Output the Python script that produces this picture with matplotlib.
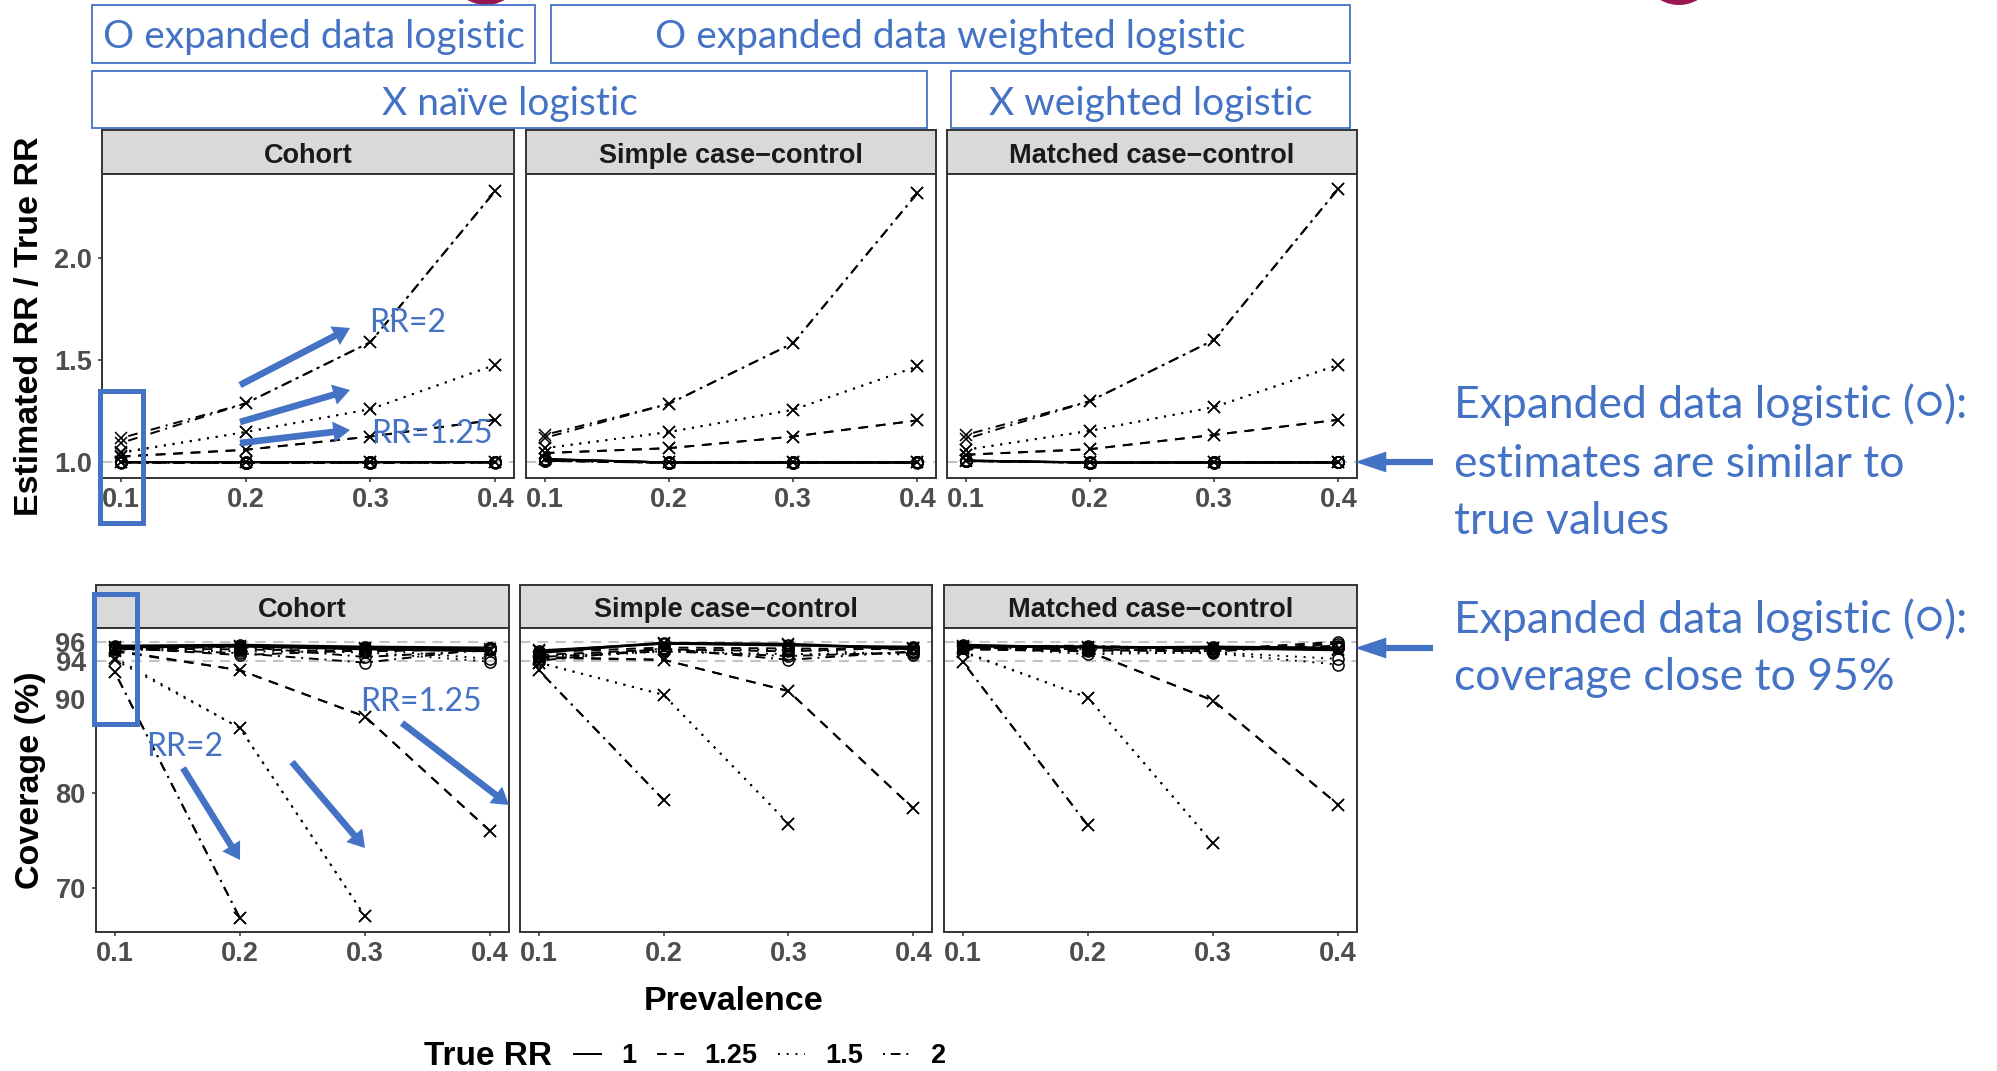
import numpy as np
import matplotlib
matplotlib.use("Agg")
import matplotlib.pyplot as plt
from matplotlib.lines import Line2D
from matplotlib.patches import Rectangle, Ellipse
from matplotlib.font_manager import FontProperties

nan = np.nan

# ---------------- data ----------------
prevalence = [0.1, 0.2, 0.3, 0.4]
prevalence_labels = ["0.1", "0.2", "0.3", "0.4"]
true_rr = ["1", "1.25", "1.5", "2"]
designs = ["Cohort", "Simple case\u2212control", "Matched case\u2212control"]
methods = ["expanded data logistic", "expanded data weighted logistic",
           "naïve logistic", "weighted logistic"]
ratio_ticks = [1.0, 1.5, 2.0]
ratio_tick_labels = ["1.0", "1.5", "2.0"]
coverage_ticks = [70, 80, 90, 94, 96]
coverage_tick_labels = ["70", "80", "90", "94", "96"]

# Estimated RR / True RR  (rows = true RR 1, 1.25, 1.5, 2; cols = prevalence)
ratio_cohort_expanded = [[1.000, 1.000, 1.000, 1.000], [1.000, 0.998, 0.999, 1.000],
                         [0.999, 0.998, 1.000, 0.999], [1.000, 0.997, 0.999, 1.000]]
ratio_cohort_expanded_w = [[1.001, 1.000, 1.000, 1.000], [1.001, 0.999, 1.000, 1.000],
                           [1.000, 0.999, 0.999, 1.000], [1.001, 0.998, 1.000, 1.000]]
ratio_cohort_naive = [[1.000, 1.000, 1.000, 1.000], [1.030, 1.062, 1.127, 1.209],
                      [1.046, 1.149, 1.261, 1.478], [1.119, 1.289, 1.589, 2.329]]
ratio_cohort_weighted = [[1.000, 1.000, 1.000, 1.000], [1.028, 1.062, 1.127, 1.209],
                         [1.050, 1.149, 1.261, 1.478], [1.095, 1.289, 1.589, 2.329]]

ratio_simple_expanded = [[1.017, 1.000, 1.000, 1.000], [1.010, 0.998, 1.000, 1.000],
                         [1.012, 0.999, 0.999, 1.000], [1.008, 0.998, 1.000, 0.999]]
ratio_simple_expanded_w = [[1.015, 1.000, 1.000, 1.000], [1.011, 0.999, 0.999, 1.000],
                           [1.010, 0.998, 1.000, 1.000], [1.009, 0.999, 0.999, 1.000]]
ratio_simple_naive = [[1.017, 1.000, 1.000, 1.000], [1.046, 1.070, 1.127, 1.206],
                      [1.070, 1.149, 1.258, 1.470], [1.135, 1.287, 1.584, 2.318]]
ratio_simple_weighted = [[1.015, 1.000, 1.000, 1.000], [1.046, 1.070, 1.127, 1.206],
                         [1.070, 1.149, 1.258, 1.470], [1.120, 1.287, 1.584, 2.318]]

ratio_matched_expanded = [[1.010, 1.000, 1.000, 1.000], [1.008, 0.999, 1.000, 1.000],
                          [1.009, 0.998, 1.000, 1.000], [1.007, 0.999, 0.999, 1.000]]
ratio_matched_expanded_w = [[1.008, 1.000, 1.000, 1.000], [1.009, 0.998, 1.000, 1.000],
                            [1.007, 0.999, 0.999, 1.000], [1.008, 0.998, 1.000, 1.000]]
ratio_matched_naive = [[1.010, 1.000, 1.000, 1.000], [1.038, 1.065, 1.135, 1.209],
                       [1.062, 1.155, 1.271, 1.478], [1.135, 1.300, 1.600, 2.340]]
ratio_matched_weighted = [[1.008, 1.000, 1.000, 1.000], [1.038, 1.065, 1.135, 1.209],
                          [1.062, 1.155, 1.271, 1.478], [1.115, 1.300, 1.600, 2.340]]

# Coverage (%)
cov_cohort_expanded = [[95.5, 95.6, 95.4, 95.3], [95.3, 95.2, 95.0, 95.2],
                       [95.2, 95.0, 94.9, 93.9], [95.3, 94.8, 93.8, 95.3]]
cov_cohort_expanded_w = [[95.6, 95.7, 95.5, 95.4], [95.4, 94.6, 95.1, 95.3],
                         [95.3, 95.4, 95.2, 94.2], [95.2, 95.5, 94.4, 95.1]]
cov_cohort_naive = [[95.5, 95.6, 95.3, 95.2], [95.0, 93.0, 88.1, 76.0],
                    [94.3, 86.9, 67.0, nan], [92.8, 66.8, nan, nan]]
cov_cohort_weighted = [[95.4, 95.5, 95.2, 95.0], [95.1, 93.0, 88.1, 76.0],
                       [94.1, 86.9, 67.0, nan], [92.8, 66.8, nan, nan]]

cov_simple_expanded = [[94.8, 95.9, 95.7, 95.3], [94.6, 95.2, 95.0, 95.4],
                       [94.2, 95.0, 94.7, 94.8], [94.0, 95.3, 94.1, 95.0]]
cov_simple_expanded_w = [[95.0, 95.8, 95.6, 95.5], [94.9, 95.4, 95.3, 95.2],
                         [94.5, 95.1, 95.2, 94.6], [94.4, 95.0, 94.5, 94.9]]
cov_simple_naive = [[95.0, 95.9, 95.8, 95.3], [94.3, 94.1, 90.8, 78.4],
                    [93.8, 90.4, 76.8, nan], [93.0, 79.3, nan, nan]]
cov_simple_weighted = [[95.1, 95.8, 95.7, 95.2], [94.4, 94.1, 90.8, 78.4],
                       [93.8, 90.4, 76.8, nan], [93.0, 79.3, nan, nan]]

cov_matched_expanded = [[95.6, 95.5, 95.4, 95.3], [95.5, 95.3, 95.2, 96.0],
                        [95.3, 95.0, 94.8, 93.6], [95.4, 95.2, 95.0, 95.6]]
cov_matched_expanded_w = [[95.7, 95.4, 95.5, 95.4], [95.4, 95.1, 95.0, 95.8],
                          [95.5, 94.7, 94.9, 94.2], [95.5, 95.6, 95.2, 95.5]]
cov_matched_naive = [[95.5, 95.4, 95.3, 95.2], [95.3, 95.0, 89.8, 78.8],
                     [95.0, 90.1, 74.7, nan], [93.9, 76.6, nan, nan]]
cov_matched_weighted = [[95.6, 95.5, 95.3, 95.1], [95.2, 95.0, 89.8, 78.8],
                        [94.9, 90.1, 74.7, nan], [93.9, 76.6, nan, nan]]

ratio_data = [
    [ratio_cohort_expanded, ratio_cohort_expanded_w, ratio_cohort_naive, ratio_cohort_weighted],
    [ratio_simple_expanded, ratio_simple_expanded_w, ratio_simple_naive, ratio_simple_weighted],
    [ratio_matched_expanded, ratio_matched_expanded_w, ratio_matched_naive, ratio_matched_weighted],
]
coverage_data = [
    [cov_cohort_expanded, cov_cohort_expanded_w, cov_cohort_naive, cov_cohort_weighted],
    [cov_simple_expanded, cov_simple_expanded_w, cov_simple_naive, cov_simple_weighted],
    [cov_matched_expanded, cov_matched_expanded_w, cov_matched_naive, cov_matched_weighted],
]

# ---------------- styles ----------------
W, H = 1997, 1071
BLUE = "#4472C4"
plt.rcParams["font.family"] = ["Liberation Sans", "DejaVu Sans"]
SLIDE_FONT = ["Lato", "DejaVu Sans"]
line_styles = {"1": "-", "1.25": (0, (5, 4)), "1.5": (0, (1, 3.5)), "2": (0, (1, 3, 5, 3))}
method_markers = ["o", "o", "x", "x"]
TICK_FS = 19.5
TITLE_FS = 24.5

fig = plt.figure(figsize=(W / 100, H / 100), dpi=100)
fig.patch.set_facecolor("white")


def add_px_axes(x0, y0, x1, y1):
    return fig.add_axes([x0 / W, 1 - y1 / H, (x1 - x0) / W, (y1 - y0) / H])


def style_frame(ax):
    for s in ax.spines.values():
        s.set_color("#333333")
        s.set_linewidth(1.4)


def add_strip(x0, y0, x1, y1, label):
    sax = add_px_axes(x0, y0, x1, y1)
    sax.set_facecolor("#D9D9D9")
    sax.set_xticks([])
    sax.set_yticks([])
    style_frame(sax)
    sax.text(0.5, 0.25, label, transform=sax.transAxes, ha="center", va="baseline",
             fontsize=TICK_FS, fontweight="bold", color="#1A1A1A")


top_cols = [(102, 514), (526, 936), (947, 1357)]
bot_cols = [(96, 509), (520, 932), (944, 1357)]
top_rows = (130, 174, 478)
bot_rows = (585, 628, 932)


def draw_panel(ax, values, ref_levels, ylim, yticks, yticklabels, show_y):
    for lvl in ref_levels:
        ax.axhline(lvl, color="#C4C4C4", lw=1.5, ls=(0, (5, 3.5)), zorder=1)
    for m_i, method_vals in enumerate(values):
        for r_i, rr in enumerate(true_rr):
            ax.plot(prevalence, method_vals[r_i], color="black", lw=1.4,
                    ls=line_styles[rr], marker=method_markers[m_i], ms=8,
                    mfc="none", mec="black", mew=1.1, zorder=3)
    ax.set_xlim(0.085, 0.415)
    ax.set_ylim(*ylim)
    ax.set_xticks(prevalence)
    ax.set_xticklabels(prevalence_labels, fontsize=TICK_FS, fontweight="bold", color="#4D4D4D")
    if show_y:
        ax.set_yticks(yticks)
        ax.set_yticklabels(yticklabels, fontsize=TICK_FS, fontweight="bold", color="#4D4D4D")
    else:
        ax.set_yticks([])
    ax.tick_params(axis="x", length=2.9, width=1.1, color="#333333", pad=3.5)
    ax.tick_params(axis="y", length=2.9, width=1.1, color="#333333", pad=4.5)
    style_frame(ax)


for d_i, design in enumerate(designs):
    x0, x1 = top_cols[d_i]
    add_strip(x0, top_rows[0], x1, top_rows[1], design)
    ax = add_px_axes(x0, top_rows[1], x1, top_rows[2])
    draw_panel(ax, ratio_data[d_i], [1.0], (0.924, 2.412), ratio_ticks, ratio_tick_labels, d_i == 0)

    x0, x1 = bot_cols[d_i]
    add_strip(x0, bot_rows[0], x1, bot_rows[1], design)
    ax = add_px_axes(x0, bot_rows[1], x1, bot_rows[2])
    draw_panel(ax, coverage_data[d_i], [94, 96], (65.35, 97.46), coverage_ticks,
               coverage_tick_labels, d_i == 0)

# axis titles
fig.text(30 / W, 1 - 326 / H, "Estimated RR / True RR", rotation=90, ha="center", va="center",
         fontsize=TITLE_FS, fontweight="bold", color="black")
fig.text(31 / W, 1 - 780 / H, "Coverage (%)", rotation=90, ha="center", va="center",
         fontsize=TITLE_FS, fontweight="bold", color="black")
fig.text(734 / W, 1 - 1010 / H, "Prevalence", ha="center", va="baseline",
         fontsize=TITLE_FS, fontweight="bold", color="black")

# legend
fig.text(424 / W, 1 - 1065 / H, "True RR", ha="left", va="baseline",
         fontsize=24, fontweight="bold", color="black")
handles = [Line2D([], [], color="black", lw=1.4, ls=line_styles[rr]) for rr in true_rr]
fig.legend(handles, true_rr, loc="center left", bbox_to_anchor=(574 / W, 1 - 1056 / H),
           ncol=4, frameon=False, borderpad=0, borderaxespad=0, handlelength=1.0,
           handletextpad=0.75, columnspacing=0.75,
           prop=FontProperties(family="Liberation Sans", weight="bold", size=TICK_FS))

# ---------------- slide overlay ----------------
ov = fig.add_axes([0, 0, 1, 1])
ov.set_xlim(0, W)
ov.set_ylim(H, 0)
ov.axis("off")
ov.patch.set_visible(False)
ov.set_zorder(20)

# remnants of the slide title decoration
for cx in (486, 1679):
    ov.add_patch(Ellipse((cx, -32), 74, 74, color="#9B1553", lw=0))

# method legend boxes
boxes = [((92, 5, 535, 63), "O expanded data logistic", 48),
         ((551, 5, 1350, 63), "O expanded data weighted logistic", 48),
         ((92, 71, 927, 128), "X naïve logistic", 115),
         ((951, 71, 1350, 128), "X weighted logistic", 115)]
for (bx0, by0, bx1, by1), label, base in boxes:
    ov.add_patch(Rectangle((bx0, by0), bx1 - bx0, by1 - by0, fill=False, ec=BLUE, lw=1.3))
    ov.text((bx0 + bx1) / 2, base, label, ha="center", va="baseline", color=BLUE,
            fontsize=28, family=SLIDE_FONT)

# highlight rectangles at prevalence 0.1
ov.add_patch(Rectangle((100.5, 390.5), 43, 132, fill=False, ec=BLUE, lw=3.6))
ov.add_patch(Rectangle((94.5, 594), 43, 130, fill=False, ec=BLUE, lw=3.6))


def blue_arrow(tail, tip, tw=0.32, hw=1.0, hl=0.8, ms=15):
    ov.annotate("", xy=tip, xytext=tail,
                arrowprops=dict(arrowstyle=f"simple,head_length={hl},head_width={hw},tail_width={tw}",
                                mutation_scale=ms, color=BLUE, lw=0, shrinkA=0, shrinkB=0))


# top cohort annotations
blue_arrow((240, 385), (350, 328))
blue_arrow((240, 422), (350, 390))
blue_arrow((240, 443), (350, 430))
ov.text(369, 332, "RR=2", color=BLUE, fontsize=23, family=SLIDE_FONT, va="baseline")
ov.text(371, 443, "RR=1.25", color=BLUE, fontsize=23, family=SLIDE_FONT, va="baseline")

# bottom cohort annotations
blue_arrow((183, 768), (240, 860))
blue_arrow((292, 762), (365, 848))
blue_arrow((402, 723), (509, 805))
ov.text(360, 711, "RR=1.25", color=BLUE, fontsize=23, family=SLIDE_FONT, va="baseline")
ov.text(146, 756, "RR=2", color=BLUE, fontsize=23, family=SLIDE_FONT, va="baseline")

# right-hand notes
blue_arrow((1433, 462), (1355, 462), tw=0.3, hw=1.0, hl=1.5)
blue_arrow((1433, 648), (1355, 648), tw=0.3, hw=1.0, hl=1.5)
notes = [(418, "Expanded data logistic (\u25cb):"), (477, "estimates are similar to"),
         (534, "true values"), (633, "Expanded data logistic (\u25cb):"),
         (690, "coverage close to 95%")]
for base, line in notes:
    ov.text(1454, base, line, color=BLUE, fontsize=32, family=SLIDE_FONT, va="baseline")

fig.savefig("out.png", dpi=100, facecolor="white")
